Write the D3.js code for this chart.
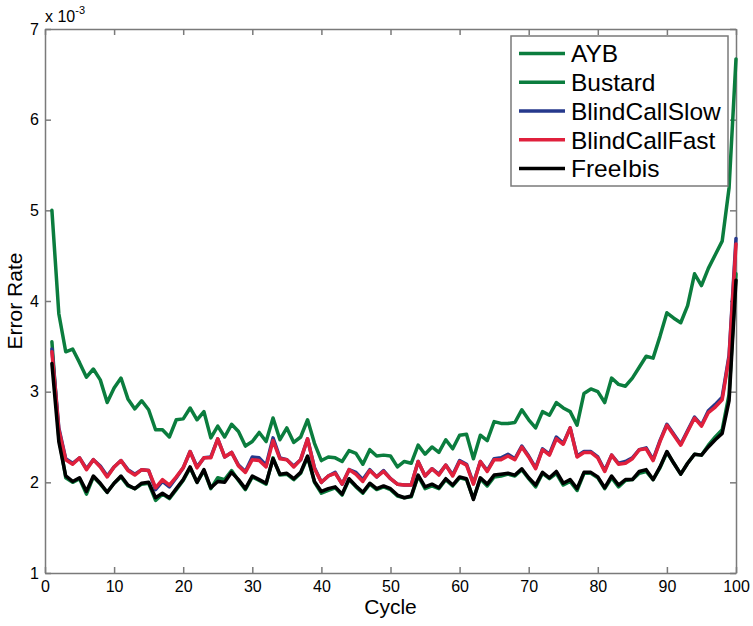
<!DOCTYPE html>
<html>
<head>
    <meta charset="utf-8">
    <title>Error rate per cycle</title>
    <style>
        body { margin: 0; background: #fff; font-family: "Liberation Sans", Arial, Helvetica, sans-serif; }
        .ax path, .ax line { stroke: #7a7a7a; stroke-width: 1.5px; }
        .ax text { font-size: 16px; fill: #000; font-family: "Liberation Sans", Arial, sans-serif; }
        .ser { fill: none; stroke-width: 3.5px; stroke-linejoin: round; stroke-linecap: round; }
    </style>
    <script src="https://d3js.org/d3.v7.min.js"></script>
</head>
<body>
<svg id="chart"></svg>
<script>
    //error rates, x 10^-3, cycles 1..100
    var cycles = d3.range(1, 101);

    var ayb = [3.55,2.50,2.05,2.00,2.04,1.87,2.06,1.98,1.89,1.99,
               2.06,1.96,1.93,1.98,1.99,1.80,1.87,1.82,1.92,2.02,
               2.16,2.00,2.13,1.93,2.05,2.03,2.13,2.02,1.92,2.06,
               2.02,1.98,2.27,2.08,2.09,2.03,2.10,2.28,2.00,1.88,
               1.91,1.94,1.86,2.03,1.95,1.88,1.98,1.92,1.95,1.92,
               1.85,1.83,1.84,2.07,1.93,1.96,1.93,2.03,1.96,2.05,
               2.03,1.82,2.04,1.96,2.06,2.07,2.09,2.07,2.14,2.04,
               1.95,2.10,2.04,2.10,1.97,2.01,1.91,2.10,2.10,2.05,
               1.93,2.05,1.95,2.02,2.03,2.10,2.12,2.03,2.16,2.33,
               2.21,2.09,2.21,2.31,2.30,2.41,2.50,2.58,2.97,4.30];

    var bustard = [5.00,3.86,3.44,3.47,3.32,3.16,3.25,3.13,2.88,3.04,
                   3.15,2.92,2.81,2.90,2.80,2.58,2.58,2.50,2.69,2.70,
                   2.82,2.69,2.78,2.49,2.62,2.50,2.64,2.56,2.40,2.45,
                   2.55,2.45,2.71,2.47,2.60,2.44,2.50,2.69,2.43,2.24,
                   2.28,2.27,2.23,2.35,2.32,2.20,2.36,2.29,2.30,2.29,
                   2.17,2.23,2.21,2.41,2.31,2.39,2.33,2.47,2.37,2.52,
                   2.53,2.26,2.52,2.46,2.67,2.65,2.65,2.66,2.80,2.69,
                   2.60,2.78,2.74,2.88,2.82,2.78,2.63,2.98,3.03,3.00,
                   2.88,3.15,3.08,3.06,3.15,3.27,3.39,3.37,3.61,3.87,
                   3.81,3.76,3.95,4.30,4.17,4.36,4.51,4.66,5.25,6.67];

    var blindSlow = [3.47,2.60,2.26,2.21,2.27,2.15,2.25,2.18,2.07,2.17,
                     2.24,2.14,2.09,2.14,2.13,1.92,2.01,1.95,2.05,2.16,
                     2.34,2.17,2.27,2.28,2.48,2.28,2.33,2.19,2.12,2.28,
                     2.27,2.19,2.49,2.27,2.25,2.18,2.25,2.48,2.16,2.00,
                     2.07,2.11,1.98,2.14,2.11,2.03,2.14,2.06,2.13,2.04,
                     1.98,1.97,1.97,2.23,2.07,2.15,2.09,2.19,2.08,2.24,
                     2.20,1.99,2.23,2.13,2.26,2.27,2.31,2.26,2.40,2.29,
                     2.16,2.37,2.31,2.50,2.43,2.60,2.29,2.34,2.34,2.28,
                     2.13,2.30,2.21,2.23,2.27,2.36,2.38,2.25,2.46,2.64,
                     2.53,2.42,2.57,2.72,2.63,2.79,2.86,2.94,3.40,4.69];

    var blindFast = [3.44,2.58,2.25,2.20,2.27,2.14,2.25,2.17,2.06,2.17,
                     2.24,2.13,2.08,2.14,2.13,1.94,2.03,1.97,2.06,2.16,
                     2.34,2.16,2.27,2.27,2.48,2.28,2.33,2.18,2.11,2.25,
                     2.24,2.17,2.46,2.26,2.25,2.17,2.25,2.48,2.15,2.00,
                     2.07,2.10,1.98,2.14,2.09,2.01,2.13,2.06,2.12,2.04,
                     1.98,1.97,1.97,2.23,2.07,2.15,2.08,2.19,2.07,2.23,
                     2.19,1.98,2.23,2.12,2.25,2.25,2.29,2.25,2.39,2.28,
                     2.15,2.36,2.30,2.48,2.42,2.60,2.28,2.33,2.33,2.27,
                     2.12,2.30,2.20,2.21,2.26,2.36,2.37,2.24,2.45,2.63,
                     2.52,2.41,2.56,2.71,2.62,2.77,2.83,2.91,3.38,4.63];

    var freeIbis = [3.31,2.45,2.07,2.01,2.05,1.90,2.07,1.99,1.89,1.99,
                    2.07,1.97,1.93,1.99,2.00,1.83,1.88,1.83,1.93,2.03,
                    2.17,2.00,2.14,1.94,2.01,2.00,2.11,2.03,1.93,2.07,
                    2.03,1.99,2.26,2.09,2.10,2.04,2.11,2.29,2.01,1.90,
                    1.93,1.95,1.87,2.04,1.96,1.89,1.99,1.93,1.96,1.93,
                    1.86,1.83,1.85,2.08,1.95,1.98,1.94,2.04,1.97,2.06,
                    2.04,1.81,2.05,1.98,2.08,2.09,2.10,2.08,2.15,2.05,
                    1.97,2.11,2.05,2.12,1.99,2.03,1.93,2.11,2.11,2.06,
                    1.94,2.07,1.97,2.03,2.03,2.12,2.14,2.03,2.17,2.34,
                    2.21,2.09,2.21,2.31,2.30,2.39,2.47,2.54,2.90,4.23];

    var names = ["AYB", "Bustard", "BlindCallSlow", "BlindCallFast", "FreeIbis"];
    var colors = ["#0b7d3e", "#0b7d3e", "#26398c", "#e0203c", "#000000"];
    var seriesVals = [ayb, bustard, blindSlow, blindFast, freeIbis];

    var xTicks = d3.range(0, 101, 10),
        yTicks = [1, 2, 3, 4, 5, 6, 7];

    var W = 753, H = 626,
        x0 = 45, x1 = 736, y0 = 573, y1 = 29;

    var svg = d3.select("#chart").attr("width", W).attr("height", H);

    var x = d3.scaleLinear().domain([0, 100]).range([x0, x1]),
        y = d3.scaleLinear().domain([1, 7]).range([y0, y1]);

    //axes box, matlab style ticks pointing inside
    svg.append("g").attr("class", "ax").attr("transform", "translate(0," + y0 + ")")
        .call(d3.axisBottom(x).tickValues(xTicks).tickFormat(d3.format("d"))
            .tickSizeInner(-6).tickSizeOuter(0).tickPadding(8));
    svg.append("g").attr("class", "ax").attr("transform", "translate(0," + y1 + ")")
        .call(d3.axisTop(x).tickValues(xTicks).tickSizeInner(-6).tickSizeOuter(0).tickFormat(""));
    svg.append("g").attr("class", "ax").attr("transform", "translate(" + x0 + ",0)")
        .call(d3.axisLeft(y).tickValues(yTicks).tickFormat(d3.format("d"))
            .tickSizeInner(-6).tickSizeOuter(0).tickPadding(6));
    svg.append("g").attr("class", "ax").attr("transform", "translate(" + x1 + ",0)")
        .call(d3.axisRight(y).tickValues(yTicks).tickSizeInner(-6).tickSizeOuter(0).tickFormat(""));

    //exponent
    var ex = svg.append("text").attr("x", x0).attr("y", 22).style("font-size", "16px");
    ex.append("tspan").text("x 10");
    ex.append("tspan").attr("dy", -8).style("font-size", "11px").text("-3");

    //axis titles
    svg.append("text").attr("x", (x0 + x1) / 2).attr("y", 614)
        .attr("text-anchor", "middle").style("font-size", "21px").text("Cycle");
    svg.append("text").attr("transform", "translate(22," + (y0 + y1) / 2 + ") rotate(-90)")
        .attr("text-anchor", "middle").style("font-size", "21px").text("Error Rate");

    //lines
    var line = d3.line().x(function(d) { return x(d[0]); }).y(function(d) { return y(d[1]); });
    seriesVals.forEach(function(vals, i) {
        svg.append("path").attr("class", "ser")
            .attr("d", line(cycles.map(function(c, j) { return [c, vals[j]]; })))
            .attr("stroke", colors[i]);
    });

    //legend
    var lg = svg.append("g").attr("transform", "translate(511,36)");
    lg.append("rect").attr("width", 217).attr("height", 150)
        .attr("fill", "#fff").attr("stroke", "#7a7a7a").attr("stroke-width", 1.5);
    names.forEach(function(n, i) {
        var ry = 17.5 + i * 28.75;
        lg.append("line").attr("x1", 8).attr("x2", 54).attr("y1", ry).attr("y2", ry)
            .attr("stroke", colors[i]).attr("stroke-width", 3.5);
        lg.append("text").attr("x", 60).attr("y", ry).attr("dy", "0.36em")
            .style("font-size", "24.5px").text(n);
    });
</script>
</body>
</html>
